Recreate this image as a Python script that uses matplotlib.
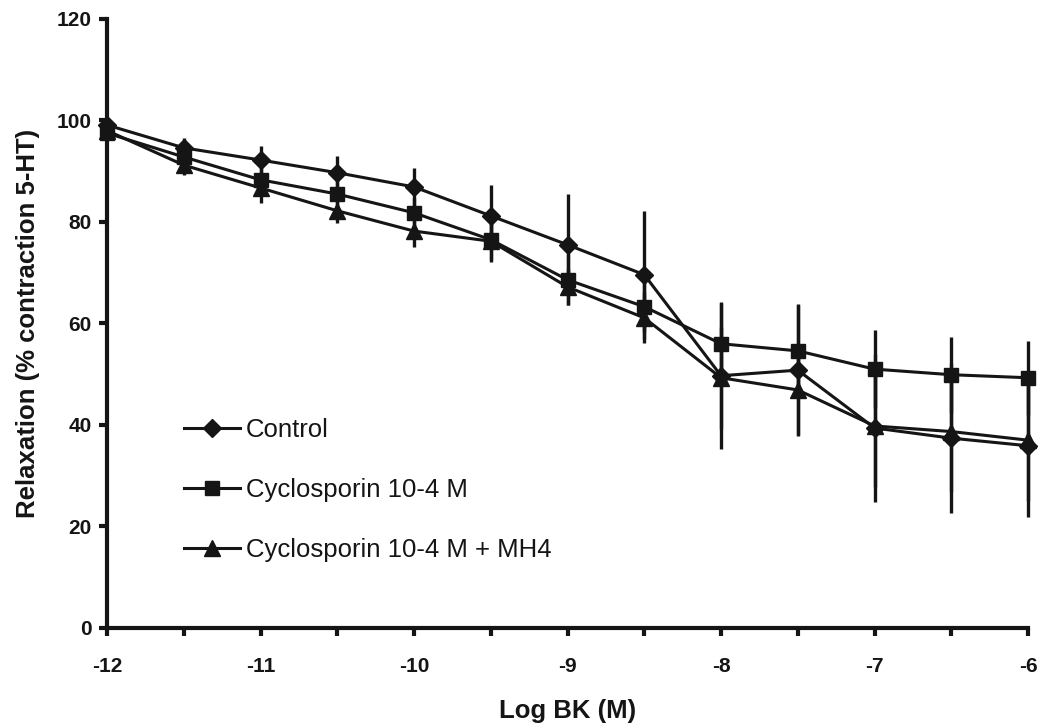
import numpy as np
import matplotlib
matplotlib.use('Agg')
import matplotlib.pyplot as plt

log_bk = [-12, -11.5, -11, -10.5, -10, -9.5, -9, -8.5, -8, -7.5, -7, -6.5, -6]

control = [99.1, 94.6, 92.2, 89.7, 86.9, 81.2, 75.5, 69.6, 49.7, 50.8, 39.4, 37.4, 35.9]
control_sem = [0, 2.0, 2.8, 3.2, 3.7, 6.0, 10.0, 12.6, 14.5, 12.8, 14.5, 14.8, 14.0]

cyclo = [97.5, 92.8, 88.3, 85.5, 81.8, 76.5, 68.6, 63.3, 56.0, 54.6, 51.0, 49.9, 49.3]
cyclo_sem = [0, 2.0, 2.5, 2.5, 3.0, 4.0, 5.0, 5.0, 8.0, 9.2, 7.7, 7.5, 7.3]

cyclo_mh4 = [98.0, 91.2, 86.7, 82.2, 78.2, 76.2, 67.2, 61.1, 49.3, 46.9, 39.8, 38.7, 37.0]
cyclo_mh4_sem = [0, 2.0, 3.0, 2.4, 3.1, 4.0, 3.5, 5.0, 10.0, 9.0, 12.0, 12.0, 12.0]

labels = ['Control', 'Cyclosporin 10-4 M', 'Cyclosporin 10-4 M + MH4']
markers = ['D', 's', '^']
msizes = [9.5, 10.5, 11.5]

ink = '#151515'
plt.rcParams['font.family'] = ['Liberation Sans', 'DejaVu Sans']
plt.rcParams['font.weight'] = 'bold'
plt.rcParams['xtick.labelsize'] = 15
plt.rcParams['ytick.labelsize'] = 15
plt.rcParams['xtick.color'] = ink
plt.rcParams['ytick.color'] = ink

fig = plt.figure(figsize=(10.42, 7.28), dpi=100)
ax = fig.add_axes([0.1027, 0.1374, 0.8839, 0.8366])

series = [(control, control_sem), (cyclo, cyclo_sem), (cyclo_mh4, cyclo_mh4_sem)]
handles = []
for (vals, sem), lab, m, ms in zip(series, labels, markers, msizes):
    eb = ax.errorbar(log_bk, vals, yerr=sem, fmt='none', ecolor=ink,
                     elinewidth=2.4, capsize=0, zorder=2)
    for c in eb.lines[2]:
        c.set_clip_on(False)
    h, = ax.plot(log_bk, vals, color=ink, lw=2.2, marker=m,
                 markersize=ms, markerfacecolor=ink,
                 markeredgecolor=ink, label=lab, zorder=3, clip_on=False)
    handles.append(h)

ax.set_xlim(-12, -6)
ax.set_ylim(0, 120)
xmaj = np.arange(-12, -5.9, 1)
ax.set_xticks(xmaj)
ax.set_xticks(np.arange(-12, -5.9, 0.5), minor=True)
ax.set_xticklabels([str(int(v)) for v in xmaj])
ax.set_yticks(np.arange(0, 121, 20))

ax.spines['top'].set_visible(False)
ax.spines['right'].set_visible(False)
for s in ['left', 'bottom']:
    ax.spines[s].set_linewidth(3)
    ax.spines[s].set_color(ink)

ax.tick_params(axis='both', which='both', direction='out', width=3, length=6)
ax.tick_params(axis='x', which='major', pad=15)
ax.tick_params(axis='y', which='major', pad=5)

ax.set_xlabel('Log BK (M)', fontsize=18.5, fontweight='bold', color=ink)
ax.set_ylabel('Relaxation (% contraction 5-HT)', fontsize=18.5, fontweight='bold', color=ink)
ax.xaxis.set_label_coords(0.4995, -0.117)
ax.yaxis.set_label_coords(-0.073, 0.5)

leg = ax.legend(handles=handles, loc='center left', bbox_to_anchor=(0.0724, 0.2266),
                frameon=False, prop={'size': 18.5, 'weight': 'normal'},
                handlelength=2.18, handletextpad=0.23,
                labelspacing=1.41, borderaxespad=0)
for t in leg.get_texts():
    t.set_color(ink)

fig.savefig('out.png', dpi=100)
